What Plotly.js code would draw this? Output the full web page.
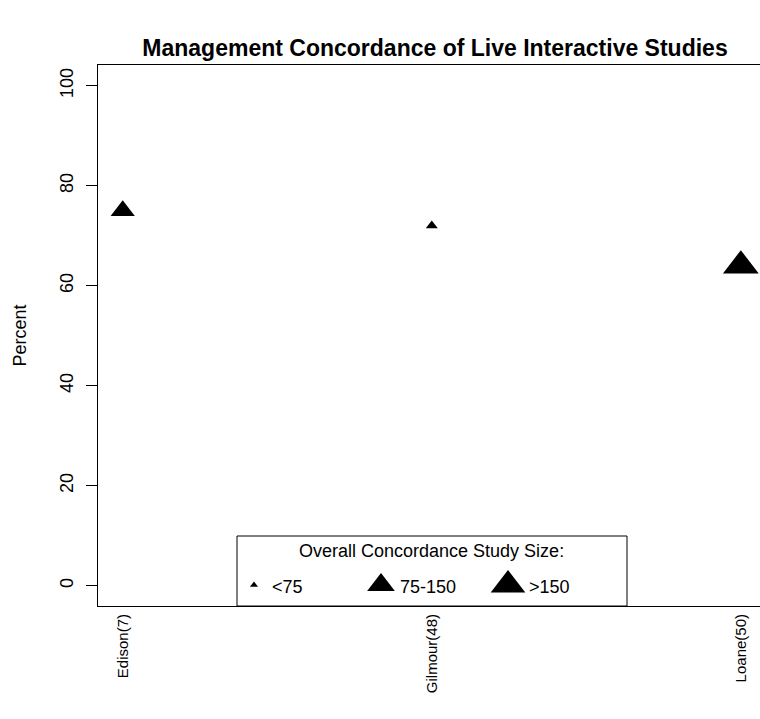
<!DOCTYPE html>
<html>
<head>
<meta charset="utf-8">
<script src="https://cdn.plot.ly/plotly-3.0.1.min.js"></script>
<style>html,body{margin:0;padding:0;background:#fff;}#chart{width:760px;height:719px;}</style>
</head>
<body>
<div id="chart"></div>
<script>
// ---- data ----
var studies = ['Edison(7)', 'Gilmour(48)', 'Loane(50)'];
var percent = [75, 72, 64];
var sizeClass = [1, 0, 2];            // index into sizeLabels
var sizeLabels = ['<75', '75-150', '>150'];
var yTicks = [0, 20, 40, 60, 80, 100];

// ---- styling ----
var FONT = 'Liberation Sans, Arial, Helvetica, sans-serif';
var markerPx = [10.5, 21, 31];   // marker size for each size class (data points)
var keyPx = [7, 24, 30];         // marker size for each size class (legend keys)

var xIdx = studies.map(function (s, i) { return i + 1; });

var dataTrace = {
  type: 'scatter', mode: 'markers',
  x: xIdx, y: percent,
  marker: {
    symbol: 'triangle-up', color: '#000', opacity: 1,
    size: sizeClass.map(function (c) { return markerPx[c]; }),
    line: {width: 0}
  },
  cliponaxis: false, hoverinfo: 'x+y', showlegend: false
};

// legend box drawn in pixel-like overlay coordinates
var legX = [254, 381, 508];
var legTextX = [270, 398, 527];
var legY = 585;
var keyTrace = {
  type: 'scatter', mode: 'markers', xaxis: 'x2', yaxis: 'y2',
  x: legX, y: sizeLabels.map(function () { return legY; }),
  marker: {symbol: 'triangle-up', color: '#000', opacity: 1, size: keyPx, line: {width: 0}},
  cliponaxis: false, hoverinfo: 'skip', showlegend: false
};

var annotations = [{
  xref: 'x2', yref: 'y2', x: 431, y: 551, text: 'Overall Concordance Study Size:',
  showarrow: false, xanchor: 'center', yanchor: 'middle',
  font: {family: FONT, size: 18, color: '#000'}
}];
sizeLabels.forEach(function (lab, i) {
  annotations.push({
    xref: 'x2', yref: 'y2', x: legTextX[i], y: legY + 2, text: lab.replace('<', '&lt;').replace('>', '&gt;'),
    showarrow: false, xanchor: 'left', yanchor: 'middle',
    font: {family: FONT, size: 18, color: '#000'}
  });
});

var layout = {
  width: 760, height: 719,
  margin: {l: 98, r: 0, t: 65, b: 113, pad: 0},
  paper_bgcolor: '#fff', plot_bgcolor: '#fff',
  font: {family: FONT, color: '#000'},
  title: {
    text: '<b>Management Concordance of Live Interactive Studies</b>',
    font: {family: FONT, size: 23, color: '#000'},
    x: 435 / 760, xanchor: 'center', xref: 'container',
    y: 1 - 48 / 719, yanchor: 'middle', yref: 'container'
  },
  xaxis: {
    range: [0.92, 3.062], tickvals: xIdx, ticktext: studies,
    tickangle: -90, ticks: '', showgrid: false, zeroline: false,
    showline: true, mirror: true, linecolor: '#000', linewidth: 1,
    tickfont: {family: FONT, size: 15, color: '#000'},
    ticklabelstandoff: 1, fixedrange: true
  },
  yaxis: {
    range: [-4.06, 104.14], tickvals: yTicks, ticktext: yTicks.map(String),
    tickangle: -90, ticks: 'outside', ticklen: 11, tickwidth: 1, tickcolor: '#000',
    showgrid: false, zeroline: false, showline: true, linecolor: '#000', linewidth: 1,
    tickfont: {family: FONT, size: 18, color: '#000'},
    ticklabelstandoff: 6,
    title: {text: 'Percent', font: {family: FONT, size: 18, color: '#000'}, standoff: 25},
    fixedrange: true
  },
  xaxis2: {overlaying: 'x', range: [98, 760], visible: false, fixedrange: true},
  yaxis2: {overlaying: 'y', range: [606, 65], visible: false, fixedrange: true},
  shapes: [{
    type: 'rect', xref: 'x2', yref: 'y2', x0: 237, x1: 627, y0: 536, y1: 606,
    line: {color: '#000', width: 1}, fillcolor: '#fff', layer: 'below'
  }],
  annotations: annotations,
  showlegend: false
};

Plotly.newPlot('chart', [dataTrace, keyTrace], layout, {displayModeBar: false, staticPlot: true});
</script>
</body>
</html>
